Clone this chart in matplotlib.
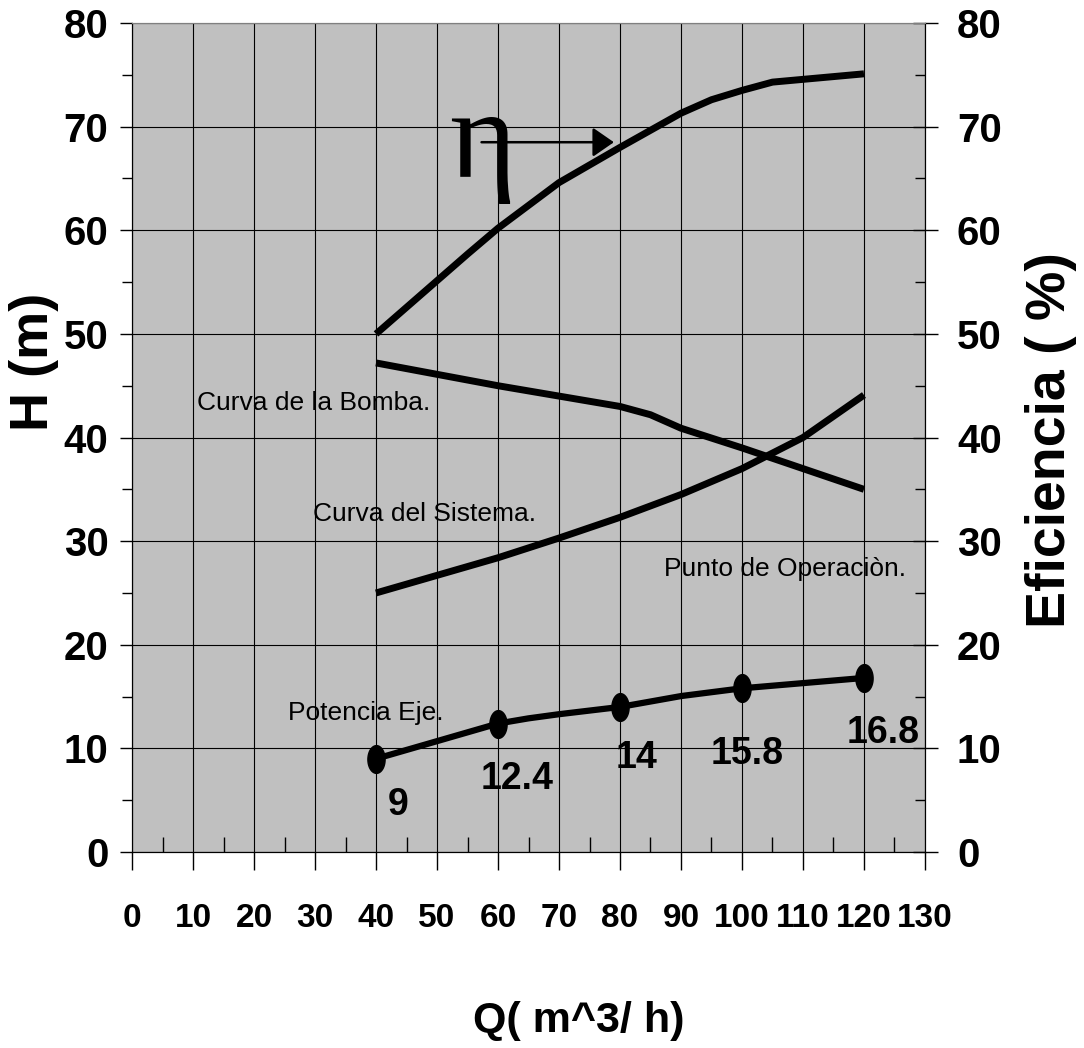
import numpy as np
import matplotlib
matplotlib.use('Agg')
import matplotlib.pyplot as plt
from matplotlib.path import Path
from matplotlib.ticker import MultipleLocator

# data
q_eta = [40, 55, 60, 70, 80, 90, 95, 100, 105, 120]
eta = [50, 57.7, 60.2, 64.6, 68, 71.3, 72.6, 73.5, 74.3, 75.1]

q_bomba = [40, 60, 80, 85, 90, 100, 120]
h_bomba = [47.2, 45, 43, 42.2, 40.9, 39, 35]

q_sist = [40, 50, 60, 70, 80, 90, 100, 110, 120]
h_sist = [25, 26.7, 28.4, 30.3, 32.3, 34.5, 37, 40, 44.1]

q_pot = [40, 60, 65, 70, 80, 90, 100, 120]
p_pot = [9, 12.4, 12.9, 13.3, 14, 15.05, 15.8, 16.8]

q_mark = [40, 60, 80, 100, 120]
p_mark = [9, 12.4, 14, 15.8, 16.8]
p_labels = ['9', '12.4', '14', '15.8', '16.8']
label_off = [(16, -33), (14, -40), (12, -37), (4, -47), (14, -40)]  # points

plt.rcParams['font.family'] = ['Liberation Sans', 'DejaVu Sans']

fig = plt.figure(figsize=(10.84, 10.48), dpi=100)
ax = fig.add_axes([0.1218, 0.187, 0.7315, 0.791])
ax.set_facecolor('#c0c0c0')

ax.set_xlim(0, 130)
ax.set_ylim(0, 80)
ax.xaxis.set_major_locator(MultipleLocator(10))
ax.xaxis.set_minor_locator(MultipleLocator(5))
ax.yaxis.set_major_locator(MultipleLocator(10))
ax.yaxis.set_minor_locator(MultipleLocator(5))
ax.grid(True, which='major', color='black', lw=0.8)
ax.set_axisbelow(True)

ax.tick_params(axis='x', which='major', direction='out', length=13, width=1,
               pad=24, labelsize=24)
ax.tick_params(axis='x', which='minor', direction='in', length=11, width=1)
ax.tick_params(axis='y', which='major', direction='out', length=9, width=1,
               pad=8, labelsize=29)
ax.tick_params(axis='y', which='minor', direction='out', length=7, width=1)
ax.spines['top'].set_color('#808080')

ax2 = ax.twinx()
ax2.set_ylim(0, 80)
ax2.yaxis.set_major_locator(MultipleLocator(10))
ax2.yaxis.set_minor_locator(MultipleLocator(5))
ax2.tick_params(axis='y', which='major', direction='inout', length=18, width=1,
                pad=14, labelsize=29)
ax2.tick_params(axis='y', which='minor', direction='in', length=7, width=1)
ax2.spines['top'].set_color('#808080')

for lab in ax.get_xticklabels() + ax.get_yticklabels() + ax2.get_yticklabels():
    lab.set_fontweight('bold')

lw = 5
ax.plot(q_eta, eta, color='black', lw=lw, solid_capstyle='butt')
ax.plot(q_bomba, h_bomba, color='black', lw=lw, solid_capstyle='butt')
ax.plot(q_sist, h_sist, color='black', lw=lw, solid_capstyle='butt')
ax.plot(q_pot, p_pot, color='black', lw=4.5, solid_capstyle='butt')

t = np.linspace(0, 2 * np.pi, 60)
ellipse = Path(np.column_stack([0.62 * np.cos(t), np.sin(t)]))
ax.plot(q_mark, p_mark, ls='none', marker=ellipse, ms=20, color='black')

for q, p, s, off in zip(q_mark, p_mark, p_labels, label_off):
    ax.annotate(s, (q, p), xytext=off, textcoords='offset points',
                ha='center', va='center', fontsize=27, fontweight='bold')

ax.text(10.6, 43.3, 'Curva de la Bomba.', fontsize=19, va='center', ha='left')
ax.text(29.6, 32.6, 'Curva del Sistema.', fontsize=19, va='center', ha='left')
ax.text(87.2, 27.3, 'Punto de Operaciòn.', fontsize=19, va='center', ha='left')
ax.text(25.5, 13.4, 'Potencia Eje.', fontsize=19, va='center', ha='left')

# eta symbol with arrow
ax.text(57.5, 65.1, 'η', family='Liberation Serif', fontsize=92,
        ha='center', va='baseline')
ax.annotate('', xy=(79.0, 68.5), xytext=(57.3, 68.5),
            arrowprops=dict(arrowstyle='-|>,head_length=1.3,head_width=0.9',
                            color='black', lw=1.8, shrinkA=0, shrinkB=0))

fig.text(0.031, 1 - 362 / 1048, 'H (m)', rotation=90, fontsize=39,
         fontweight='bold', ha='center', va='center')
fig.text(0.970, 1 - 440 / 1048, 'Eficiencia ( %)', rotation=90, fontsize=40,
         fontweight='bold', ha='center', va='center')
fig.text(579 / 1084, 1 - 1021 / 1048, 'Q( m^3/ h)', fontsize=31,
         fontweight='bold', ha='center', va='center')

fig.savefig('out.png', dpi=100, facecolor='white')
